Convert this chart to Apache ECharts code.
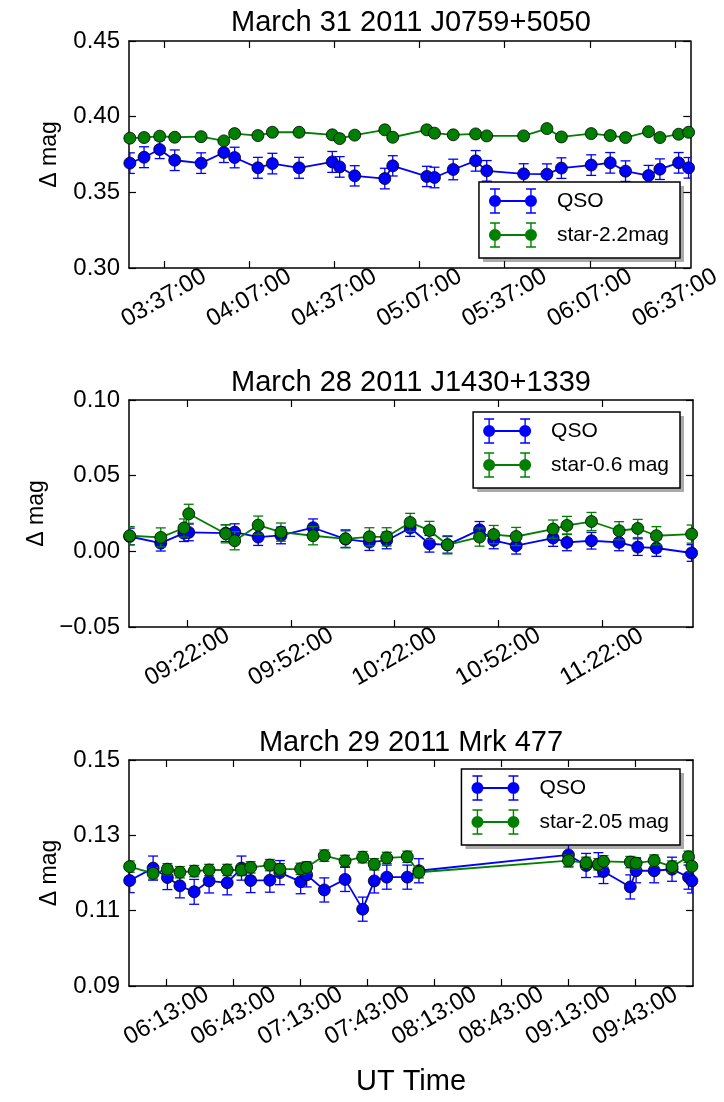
<!DOCTYPE html>
<html><head><meta charset="utf-8">
<script src="https://cdn.jsdelivr.net/npm/echarts@6/dist/echarts.min.js"></script>
<style>html,body{margin:0;padding:0;background:#fff}#c{width:724px;height:1102px}</style>
</head><body><div id="c"></div><script>
// ---------- Panel 1: March 31 2011 J0759+5050 (time in minutes since 00:00 UT) ----------
const p1Title = 'March 31 2011 J0759+5050';
const p1XTicks = ['03:37:00','04:07:00','04:37:00','05:07:00','05:37:00','06:07:00','06:37:00'];
const p1Time = [205.0,210.0,215.5,220.8,230.1,238.1,241.9,250.1,255.2,264.6,276.3,278.9,284.2,294.8,297.6,309.6,312.3,318.9,326.8,330.7,343.7,351.9,357.0,367.5,374.2,379.6,387.7,391.7,398.3,401.8];
const p1Qso = [0.3693,0.3732,0.3783,0.3712,0.3693,0.3763,0.3730,0.3662,0.3690,0.3662,0.3701,0.3668,0.3609,0.3591,0.3675,0.3605,0.3598,0.3651,0.3708,0.3642,0.3622,0.3620,0.3660,0.3680,0.3695,0.3640,0.3611,0.3653,0.3695,0.3662];
const p1QsoErr = [0.0068,0.0069,0.0060,0.0068,0.0068,0.0066,0.0068,0.0069,0.0068,0.0069,0.0069,0.0068,0.0067,0.0068,0.0067,0.0067,0.0068,0.0068,0.0068,0.0068,0.0067,0.0068,0.0068,0.0068,0.0068,0.0068,0.0067,0.0068,0.0068,0.0068];
const p1Star = [0.3858,0.3862,0.3871,0.3864,0.3868,0.3840,0.3888,0.3875,0.3897,0.3897,0.3880,0.3855,0.3878,0.3913,0.3864,0.3913,0.3891,0.3880,0.3886,0.3873,0.3873,0.3921,0.3866,0.3888,0.3875,0.3862,0.3901,0.3862,0.3884,0.3897];
const p1StarErr = [0.0015,0.0015,0.0015,0.0015,0.0015,0.0015,0.0015,0.0015,0.0015,0.0015,0.0015,0.0015,0.0015,0.0015,0.0015,0.0015,0.0015,0.0015,0.0015,0.0015,0.0015,0.0015,0.0015,0.0015,0.0015,0.0015,0.0015,0.0015,0.0015,0.0015];
const p1StarName = 'star-2.2mag';

// ---------- Panel 2: March 28 2011 J1430+1339 ----------
const p2Title = 'March 28 2011 J1430+1339';
const p2XTicks = ['09:22:00','09:52:00','10:22:00','10:52:00','11:22:00'];
const p2Time = [545.3,554.3,561.0,562.4,573.1,575.7,582.5,589.1,598.4,607.8,614.7,619.7,626.5,632.1,637.3,646.6,650.7,657.2,667.9,671.9,679.0,687.0,692.4,697.8,708.0];
const p2Qso = [0.0098,0.0054,0.0120,0.0125,0.0120,0.0127,0.0094,0.0105,0.0156,0.0081,0.0061,0.0072,0.0154,0.0050,0.0043,0.0142,0.0072,0.0037,0.0088,0.0059,0.0070,0.0059,0.0028,0.0022,-0.0011];
const p2QsoErr = [0.0055,0.0052,0.0055,0.0055,0.0055,0.0055,0.0055,0.0055,0.0058,0.0055,0.0055,0.0055,0.0055,0.0055,0.0055,0.0055,0.0055,0.0055,0.0055,0.0055,0.0055,0.0055,0.0055,0.0055,0.0055];
const p2Star = [0.0103,0.0092,0.0154,0.0248,0.0116,0.0070,0.0173,0.0127,0.0103,0.0083,0.0096,0.0096,0.0191,0.0138,0.0043,0.0094,0.0111,0.0098,0.0147,0.0171,0.0197,0.0136,0.0151,0.0103,0.0114];
const p2StarErr = [0.0060,0.0063,0.0060,0.0063,0.0060,0.0060,0.0060,0.0060,0.0060,0.0060,0.0060,0.0060,0.0060,0.0060,0.0060,0.0060,0.0060,0.0060,0.0060,0.0060,0.0060,0.0060,0.0060,0.0060,0.0060];
const p2StarName = 'star-0.6 mag';

// ---------- Panel 3: March 29 2011 Mrk 477 ----------
const p3Title = 'March 29 2011 Mrk 477';
const p3XTicks = ['06:13:00','06:43:00','07:13:00','07:43:00','08:13:00','08:43:00','09:13:00','09:43:00'];
const p3Time = [356.5,367.0,373.4,379.0,385.4,392.1,400.2,406.6,410.7,419.3,423.8,433.1,435.8,443.7,453.0,460.9,466.1,471.7,480.9,486.1,553.1,561.0,566.5,568.8,580.8,583.4,591.5,599.5,606.9,608.4];
const p3Qso = [0.1180,0.1213,0.1188,0.1166,0.1150,0.1179,0.1174,0.1213,0.1180,0.1181,0.1201,0.1177,0.1195,0.1155,0.1183,0.1104,0.1179,0.1189,0.1189,0.1206,0.1248,0.1220,0.1222,0.1204,0.1163,0.1206,0.1206,0.1210,0.1189,0.1179];
const p3QsoErr = [0.0032,0.0032,0.0032,0.0032,0.0033,0.0032,0.0032,0.0032,0.0032,0.0032,0.0032,0.0032,0.0032,0.0032,0.0032,0.0032,0.0032,0.0032,0.0032,0.0032,0.0032,0.0032,0.0032,0.0032,0.0032,0.0032,0.0032,0.0032,0.0032,0.0032];
const p3Star = [0.1217,0.1199,0.1210,0.1202,0.1205,0.1208,0.1208,0.1208,0.1215,0.1221,0.1210,0.1211,0.1215,0.1246,0.1232,0.1242,0.1223,0.1240,0.1243,0.1202,0.1233,0.1227,0.1223,0.1231,0.1229,0.1226,0.1233,0.1217,0.1243,0.1218];
const p3StarErr = [0.0015,0.0015,0.0015,0.0015,0.0015,0.0015,0.0015,0.0015,0.0015,0.0015,0.0015,0.0015,0.0015,0.0015,0.0015,0.0015,0.0015,0.0015,0.0015,0.0015,0.0015,0.0015,0.0015,0.0015,0.0015,0.0015,0.0015,0.0015,0.0015,0.0015];
const p3StarName = 'star-2.05 mag';

const qsoName = 'QSO';
const yLabel = 'Δ mag';
const xLabel = 'UT Time';

// ---------- rendering ----------
const FONT = "'Liberation Sans', Arial, sans-serif";
const BLUE = '#0000ff', GREEN = '#008000';
function toMin(s){ const p = s.split(':'); return (+p[0]) * 60 + (+p[1]); }
function pad(n){ return (n < 10 ? '0' : '') + n; }
function fmtTime(v){ const m = Math.round(v); return pad(Math.floor(m/60)) + ':' + pad(m % 60) + ':00'; }
function fmtY(v){ const s = Math.abs(v) < 1e-9 ? '0.00' : v.toFixed(2); return s.replace('-', '\u2212'); }

const ICON = 'path://' +
  'M0,0 L0,0 Z M63,26 L63,26 Z ' +
  'M0,13 A6,6 0 1,1 12,13 A6,6 0 1,1 0,13 Z ' +
  'M36,13 A6,6 0 1,1 48,13 A6,6 0 1,1 36,13 Z ' +
  'M6,12 L42,12 L42,14 L6,14 Z ' +
  'M5.3,1 L6.7,1 L6.7,25 L5.3,25 Z M1,0.3 L11,0.3 L11,1.7 L1,1.7 Z M1,24.3 L11,24.3 L11,25.7 L1,25.7 Z ' +
  'M41.3,1 L42.7,1 L42.7,25 L41.3,25 Z M37,0.3 L47,0.3 L47,1.7 L37,1.7 Z M37,24.3 L47,24.3 L47,25.7 L37,25.7 Z';

const panels = [
  {title:p1Title, ticks:p1XTicks, t:p1Time, q:p1Qso, qe:p1QsoErr, s:p1Star, se:p1StarErr, sName:p1StarName,
   xmin:204.7, xmax:402.4, ymin:0.30, ymax:0.45, yint:0.05, grid:{top:41, height:227}, titleTop:8, legendTop:182},
  {title:p2Title, ticks:p2XTicks, t:p2Time, q:p2Qso, qe:p2QsoErr, s:p2Star, se:p2StarErr, sName:p2StarName,
   xmin:545.1, xmax:708.4, ymin:-0.05, ymax:0.10, yint:0.05, grid:{top:400, height:227}, titleTop:368, legendTop:412},
  {title:p3Title, ticks:p3XTicks, t:p3Time, q:p3Qso, qe:p3QsoErr, s:p3Star, se:p3StarErr, sName:p3StarName,
   xmin:356.2, xmax:608.9, ymin:0.09, ymax:0.15, yint:0.02, grid:{top:760, height:226}, titleTop:728, legendTop:769}
];

function errRender(color){
  return function(params, api){
    const x = api.value(0), y = api.value(1), e = api.value(2);
    const a = api.coord([x, y + e]), b = api.coord([x, y - e]);
    const st = {stroke: color, lineWidth: 1.3};
    return {type:'group', children:[
      {type:'line', shape:{x1:a[0], y1:a[1], x2:b[0], y2:b[1]}, style:st},
      {type:'line', shape:{x1:a[0]-5, y1:a[1], x2:a[0]+5, y2:a[1]}, style:st},
      {type:'line', shape:{x1:b[0]-5, y1:b[1], x2:b[0]+5, y2:b[1]}, style:st}
    ]};
  };
}

// legend box geometry (for the matplotlib-style drop shadow)
const LEG = {right:44, itemW:63, itemH:26, gap:8, pad:[6,11,10,10], font:21};
const mctx = document.createElement('canvas').getContext('2d');
mctx.font = LEG.font + 'px ' + FONT;

const grid = [], xAxis = [], yAxis = [], series = [], title = [], legend = [], graphic = [];
const axisLineStyle = {color:'#000', width:1.5};
const tickStyle = {color:'#000', width:1.2};
panels.forEach((p, i) => {
  grid.push({left:129, width:564, top:p.grid.top, height:p.grid.height});
  const tv = p.ticks.map(toMin);
  const last = i === panels.length - 1;
  xAxis.push({type:'value', gridIndex:i, position:'bottom', min:p.xmin, max:p.xmax,
    axisLine:{show:true, onZero:false, lineStyle:axisLineStyle},
    axisTick:{show:true, inside:true, length:7, customValues:tv, lineStyle:tickStyle},
    axisLabel:{customValues:tv, formatter:fmtTime, rotate:30, align:'center', verticalAlign:'middle', margin:30,
      fontSize:24, color:'#000', fontFamily:FONT},
    splitLine:{show:false},
    name: last ? xLabel : '', nameLocation:'middle', nameGap:81,
    nameTextStyle:{fontSize:29, color:'#000', fontFamily:FONT}});
  xAxis.push({type:'value', gridIndex:i, position:'top', min:p.xmin, max:p.xmax,
    axisLine:{show:true, onZero:false, lineStyle:axisLineStyle},
    axisTick:{show:true, inside:true, length:7, customValues:tv, lineStyle:tickStyle},
    axisLabel:{show:false}, splitLine:{show:false}});
  yAxis.push({type:'value', gridIndex:i, position:'left', min:p.ymin, max:p.ymax, interval:p.yint,
    axisLine:{show:true, onZero:false, lineStyle:axisLineStyle},
    axisTick:{show:true, inside:true, length:7, lineStyle:tickStyle},
    axisLabel:{formatter:fmtY, margin:9, fontSize:24, color:'#000', fontFamily:FONT},
    splitLine:{show:false},
    name:yLabel, nameLocation:'middle', nameGap:68, nameRotate:90,
    nameTextStyle:{fontSize:23, color:'#000', fontFamily:FONT}});
  yAxis.push({type:'value', gridIndex:i, position:'right', min:p.ymin, max:p.ymax, interval:p.yint,
    axisLine:{show:true, onZero:false, lineStyle:axisLineStyle},
    axisTick:{show:true, inside:true, length:7, lineStyle:tickStyle},
    axisLabel:{show:false}, splitLine:{show:false}});

  const xi = 2*i, yi = 2*i;
  const qErrData = p.t.map((t, k) => [t, p.q[k], p.qe[k]]);
  const sErrData = p.t.map((t, k) => [t, p.s[k], p.se[k]]);
  series.push({type:'custom', name:'qso-err-'+i, xAxisIndex:xi, yAxisIndex:yi, data:qErrData, clip:true,
    encode:{x:0, y:1}, renderItem:errRender(BLUE), z:2, silent:true});
  series.push({type:'line', name:qsoName, xAxisIndex:xi, yAxisIndex:yi, data:p.t.map((t,k)=>[t, p.q[k]]),
    symbol:'circle', symbolSize:12, showSymbol:true, z:3,
    lineStyle:{color:BLUE, width:1.8}, itemStyle:{color:BLUE, borderColor:'#000', borderWidth:0.8}});
  series.push({type:'custom', name:'star-err-'+i, xAxisIndex:xi, yAxisIndex:yi, data:sErrData, clip:true,
    encode:{x:0, y:1}, renderItem:errRender(GREEN), z:4, silent:true});
  series.push({type:'line', name:p.sName, xAxisIndex:xi, yAxisIndex:yi, data:p.t.map((t,k)=>[t, p.s[k]]),
    symbol:'circle', symbolSize:12, showSymbol:true, z:5,
    lineStyle:{color:GREEN, width:1.8}, itemStyle:{color:GREEN, borderColor:'#000', borderWidth:0.8}});

  title.push({text:p.title, left:411, top:p.titleTop, textAlign:'center', padding:0,
    textStyle:{fontSize:29, fontWeight:'normal', color:'#000', fontFamily:FONT}});
  legend.push({orient:'vertical', right:LEG.right, top:p.legendTop, itemWidth:LEG.itemW, itemHeight:LEG.itemH, itemGap:LEG.gap,
    padding:LEG.pad, borderColor:'#000', borderWidth:1.5, borderRadius:0, backgroundColor:'#fff', z:4,
    selectedMode:false, textStyle:{fontSize:LEG.font, color:'#000', fontFamily:FONT},
    data:[{name:qsoName, icon:ICON, itemStyle:{color:BLUE, borderWidth:0}},
          {name:p.sName, icon:ICON, itemStyle:{color:GREEN, borderWidth:0}}]});
  // drop shadow behind the legend box
  const tw = Math.max(mctx.measureText(qsoName).width, mctx.measureText(p.sName).width);
  const bw = LEG.pad[3] + LEG.itemW + 5 + tw + LEG.pad[1];
  const bh = LEG.pad[0] + 2*LEG.itemH + LEG.gap + LEG.pad[2];
  graphic.push({type:'rect', silent:true, z:1, left:724 - LEG.right - bw + 4, top:p.legendTop + 4,
    shape:{width:bw, height:bh}, style:{fill:'rgba(0,0,0,0.33)'}});
});

const chart = echarts.init(document.getElementById('c'), null, {renderer:'canvas'});
chart.setOption({animation:false, backgroundColor:'#fff', title, legend, grid, xAxis, yAxis, series, graphic});
</script></body></html>
